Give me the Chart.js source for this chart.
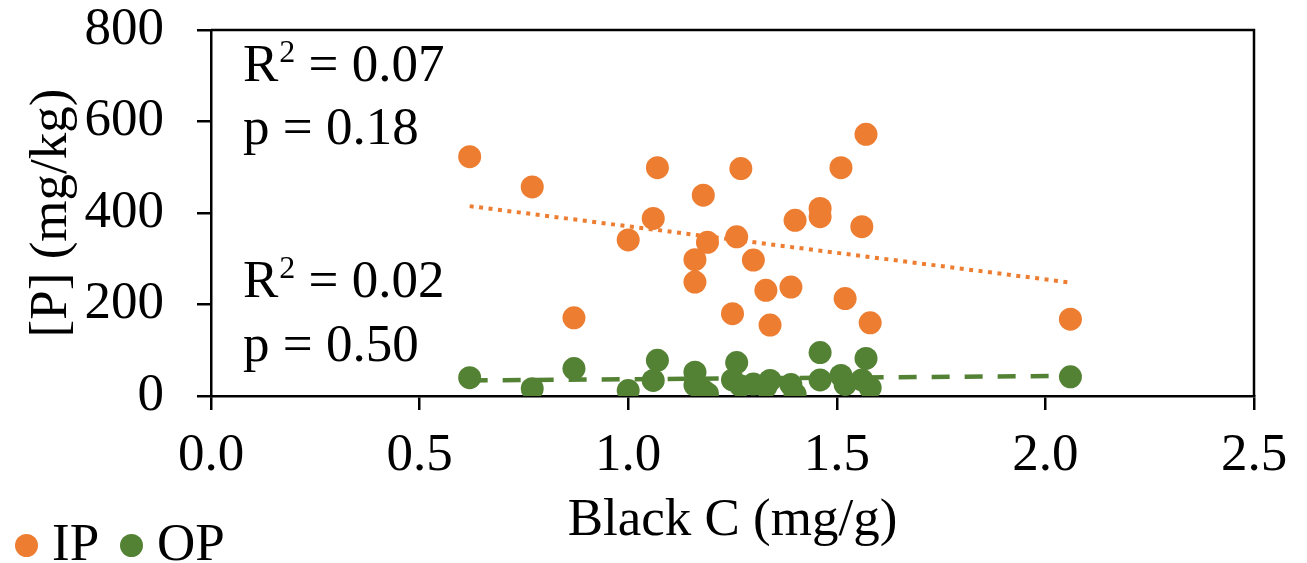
<!DOCTYPE html>
<html>
<head>
<meta charset="utf-8">
<script src="https://cdn.jsdelivr.net/npm/chart.js@4"></script>
<style>
  body { margin: 0; background: #fff; }
  #wrap { position: relative; width: 1307px; height: 563px; font-family: "Liberation Serif", "Times New Roman", serif; color: #000; }
  .note { position: absolute; left: 243px; font-size: 53px; line-height: 53px; white-space: nowrap; }
  .note sup { font-size: 32px; vertical-align: baseline; position: relative; top: -19px; margin-left: 1px; }
  #legend { position: absolute; left: 15px; top: 516px; font-size: 53px; line-height: 53px; white-space: nowrap; }
  #legend span { position: absolute; top: 0; }
  #legend .dot { width: 23px; height: 23px; border-radius: 50%; top: 18px; }
</style>
</head>
<body>
<div id="wrap">
  <canvas id="chart" width="1307" height="563"></canvas>
  <div class="note" style="top:37px">R<sup>2</sup> = 0.07</div>
  <div class="note" style="top:100px">p = 0.18</div>
  <div class="note" style="top:253px">R<sup>2</sup> = 0.02</div>
  <div class="note" style="top:317px">p = 0.50</div>
  <div id="legend">
    <span class="dot" style="left:0;background:#ED7D31"></span><span style="left:37px">IP</span>
    <span class="dot" style="left:105px;background:#548235"></span><span style="left:142px">OP</span>
  </div>
</div>
<script>
// Black C (mg/g) per sample
const blackC = [0.62, 0.77, 0.87, 1.00, 1.06, 1.07, 1.16, 1.16, 1.18, 1.19, 1.25, 1.26, 1.27, 1.30, 1.33, 1.34, 1.39, 1.40, 1.46, 1.46, 1.51, 1.52, 1.56, 1.57, 1.58, 2.06];
const ipValues = [523, 457, 171, 341, 388, 499, 298, 249, 439, 336, 180, 348, 497, 297, 231, 155, 238, 384, 410, 392, 499, 213, 370, 572, 160, 168];
const opValues = [40, 16, 60, 12, 34, 78, 52, 24, 12, 5, 35, 73, 22, 26, 20, 34, 25, 4, 95, 35, 45, 25, 35, 82, 18, 42];

// trend line end points
const trendX = [0.62, 2.06];
const ipTrend = [415, 248];
const opTrend = [34, 44];

const xTicks = [0, 0.5, 1.0, 1.5, 2.0, 2.5];
const yTicks = [0, 200, 400, 600, 800];

const orange = "#ED7D31";
const green = "#548235";
const serif = "'Liberation Serif', 'Times New Roman', serif";

const toPoints = (xs, ys) => xs.map((x, i) => ({ x: x, y: ys[i] }));

const frame = {
  id: "frame",
  afterDraw(c) {
    const a = c.chartArea;
    const ctx = c.ctx;
    ctx.save();
    ctx.strokeStyle = "#000";
    ctx.lineWidth = 2.5;
    ctx.beginPath();
    ctx.moveTo(a.left, a.top);
    ctx.lineTo(a.right, a.top);
    ctx.lineTo(a.right, a.bottom);
    ctx.stroke();
    ctx.restore();
  }
};

new Chart(document.getElementById("chart"), {
  type: "scatter",
  data: {
    datasets: [
      {
        label: "IP trend",
        type: "line",
        data: toPoints(trendX, ipTrend),
        borderColor: orange,
        borderWidth: 4,
        borderDash: [4, 5.5],
        pointRadius: 0,
        order: 0
      },
      {
        label: "OP trend",
        type: "line",
        data: toPoints(trendX, opTrend),
        borderColor: green,
        borderWidth: 4.5,
        borderDash: [18, 15],
        pointRadius: 0,
        order: 0
      },
      {
        label: "IP",
        data: toPoints(blackC, ipValues),
        backgroundColor: orange,
        borderWidth: 0,
        pointRadius: 11.5,
        order: 1
      },
      {
        label: "OP",
        data: toPoints(blackC, opValues),
        backgroundColor: green,
        borderWidth: 0,
        pointRadius: 11.5,
        order: 1
      }
    ]
  },
  options: {
    responsive: false,
    animation: false,
    devicePixelRatio: 1,
    events: [],
    layout: { padding: { top: 0, right: 53, left: 0, bottom: 0 } },
    plugins: {
      legend: { display: false },
      tooltip: { enabled: false }
    },
    scales: {
      x: {
        type: "linear",
        min: 0,
        max: 2.5,
        afterBuildTicks: s => { s.ticks = xTicks.map(v => ({ value: v })); },
        afterFit: s => { s.height = 167; },
        ticks: {
          color: "#000",
          font: { family: serif, size: 53, lineHeight: 1.13 },
          padding: 16,
          maxRotation: 0,
          callback: v => v.toFixed(1)
        },
        grid: { drawOnChartArea: false, drawTicks: true, tickLength: 14, color: "#000", lineWidth: 2.5 },
        border: { color: "#000", width: 2.5 },
        title: {
          display: true,
          text: "Black C (mg/g)",
          color: "#000",
          font: { family: serif, size: 53, lineHeight: 1.13 },
          padding: { top: 0, bottom: 12 }
        }
      },
      y: {
        min: 0,
        max: 800,
        afterBuildTicks: s => { s.ticks = yTicks.map(v => ({ value: v })); },
        afterFit: s => { s.width = 211; s.paddingTop = 30; s.paddingBottom = 0; },
        ticks: {
          color: "#000",
          font: { family: serif, size: 53, lineHeight: 1.13 },
          padding: 33
        },
        grid: { drawOnChartArea: false, drawTicks: true, tickLength: 14, color: "#000", lineWidth: 2.5 },
        border: { color: "#000", width: 2.5 },
        title: {
          display: true,
          text: "[P] (mg/kg)",
          color: "#000",
          font: { family: serif, size: 53, lineHeight: 1.13 },
          padding: { top: 22, bottom: 0 }
        }
      }
    }
  },
  plugins: [frame]
});
</script>
</body>
</html>
